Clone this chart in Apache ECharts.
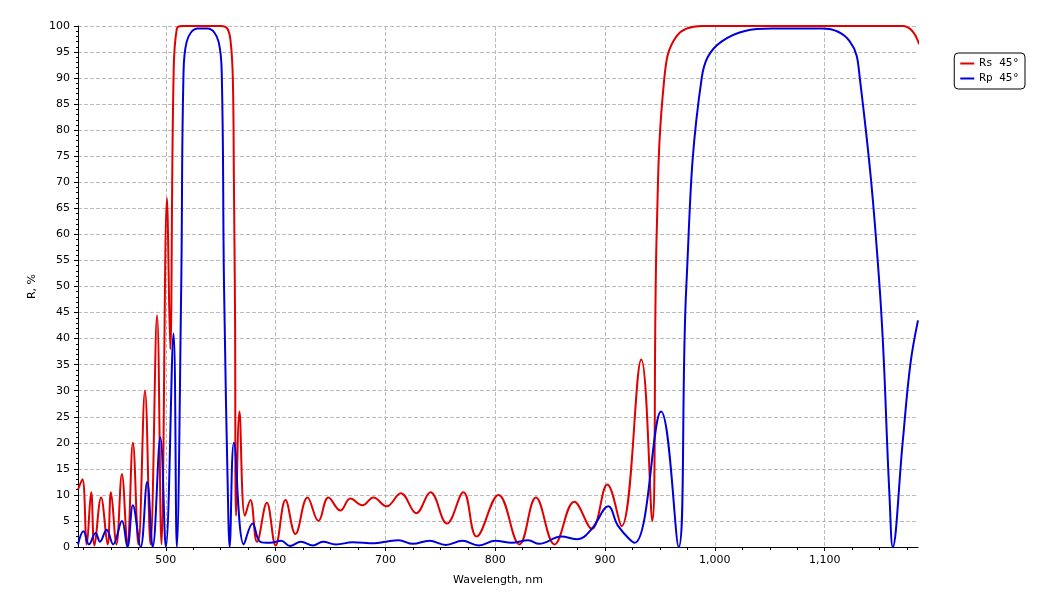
<!DOCTYPE html>
<html>
<head>
<meta charset="utf-8">
<script src="https://cdn.jsdelivr.net/npm/echarts@6/dist/echarts.min.js"></script>
<style>html,body{margin:0;padding:0;background:#fff}#chart{width:1058px;height:612px}</style>
</head>
<body>
<div id="chart"></div>
<script>
// Rs 45° — wavelength (nm) and reflectance (%)
var rsWl = [420,424,428,432,435,441,447,450,455,460,465,470,475,481,486,492,496,501,504,507,510,515,530,545,550,556,559,561,562,563,564,567,572,577,583,592,600,609,618,629,639,648,659,668,679,689,701,714,728,741,756,771,783,803,822,837,854,872,888,902,915,933,943,947,954,965,988,1050,1120,1171,1180,1186];
var rsVal = [11,13,0.5,10.5,0.3,9.5,0.5,10.5,0.5,14,0.5,20,0.5,30,0.5,44.5,0.5,67,38,90,99.5,100,100,100,100,99.5,97,90,70,45,6,26,6,9,1,8.5,0.3,9,2.5,9.5,5,9.5,7,9.3,8,9.5,7.8,10.3,6.5,10.5,4.5,10.5,2,10,0.5,9.5,0.5,8.7,3.5,12,4,36,5,60,90,98,100,100,100,100,99,96.5];
// Rp 45°
var rpWl = [420,425,430,436,440,446,452,460,465,470,477,483,488,495,500,507,510,514,516,519,529,538,548,551,553,557,558,562,571,579,586,595,605,613,623,634,643,655,670,690,700,712,725,740,755,770,785,800,815,830,840,860,875,888,903,912,927,951,967,974,988,1006,1052,1098,1123,1132,1150,1159,1162,1171,1178,1185];
var rpVal = [0.5,3,0.5,2.7,1,3.3,0.5,5,0,8,0,12.5,0,21,0,41,0,50,90,97,99.5,99.5,97,90,50,5,0,20,0.5,4.5,1,0.8,1.2,0.2,1,0.3,1,0.5,0.9,0.7,1,1.3,0.6,1.2,0.4,1.2,0.3,1.2,0.8,1.3,0.6,2,1.5,3.5,7.8,4,0.8,26,0,50,90,97,99.5,99.5,97,90,50,10,0,20,35,43.5];
var xLabels = [500,600,700,800,900,1000,1100];
var xTicks = [];
for (var t = 425; t <= 1175; t += 25) xTicks.push(t);

function pairs(xs, ys) {
  var out = [];
  for (var i = 0; i < xs.length; i++) out.push([xs[i], ys[i]]);
  return out;
}

var chart = echarts.init(document.getElementById('chart'));
var txt = { color: '#000', fontFamily: 'DejaVu Sans', fontSize: 11 };
chart.setOption({
  animation: false,
  grid: { left: 78, right: 140, top: 26, bottom: 65 },
  legend: {
    orient: 'vertical', right: 33, top: 53,
    data: ['Rs 45°', 'Rp 45°'],
    itemWidth: 14, itemHeight: 2, itemGap: 4,
    borderColor: '#000', borderWidth: 1, borderRadius: 4, padding: [5, 6],
    textStyle: { fontFamily: 'DejaVu Sans Mono', fontSize: 11, color: '#000' },
    icon: 'rect'
  },
  xAxis: [{
    type: 'value', min: 420, max: 1185,
    name: 'Wavelength, nm', nameLocation: 'middle', nameGap: 28, nameTextStyle: txt,
    axisLine: { lineStyle: { color: '#000' } },
    axisTick: { customValues: xLabels, length: 4, lineStyle: { color: '#000' } },
    axisLabel: Object.assign({ customValues: xLabels, formatter: '{value}' }, txt),
    splitLine: { show: true, lineStyle: { color: '#bbb', type: 'dashed' } }
  }, {
    // minor ticks every 25 nm
    type: 'value', min: 420, max: 1185, position: 'bottom',
    axisLine: { show: false },
    axisTick: { customValues: xTicks, length: 3, lineStyle: { color: '#000' } },
    axisLabel: { show: false },
    splitLine: { show: false }
  }],
  yAxis: {
    type: 'value', min: 0, max: 100, interval: 5,
    name: 'R, %', nameLocation: 'middle', nameGap: 40, nameTextStyle: txt,
    axisLine: { show: true, lineStyle: { color: '#000' } },
    axisTick: { show: true, length: 4, lineStyle: { color: '#000' } },
    minorTick: { show: true, splitNumber: 5, length: 2, lineStyle: { color: '#000' } },
    axisLabel: txt,
    splitLine: { show: true, lineStyle: { color: '#bbb', type: 'dashed' } }
  },
  series: [
    { name: 'Rs 45°', type: 'line', data: pairs(rsWl, rsVal), smooth: 0.4, showSymbol: false,
      color: '#e00000', lineStyle: { width: 2 } },
    { name: 'Rp 45°', type: 'line', data: pairs(rpWl, rpVal), smooth: 0.4, showSymbol: false,
      color: '#0000dd', lineStyle: { width: 2 } }
  ]
});
</script>
</body>
</html>
